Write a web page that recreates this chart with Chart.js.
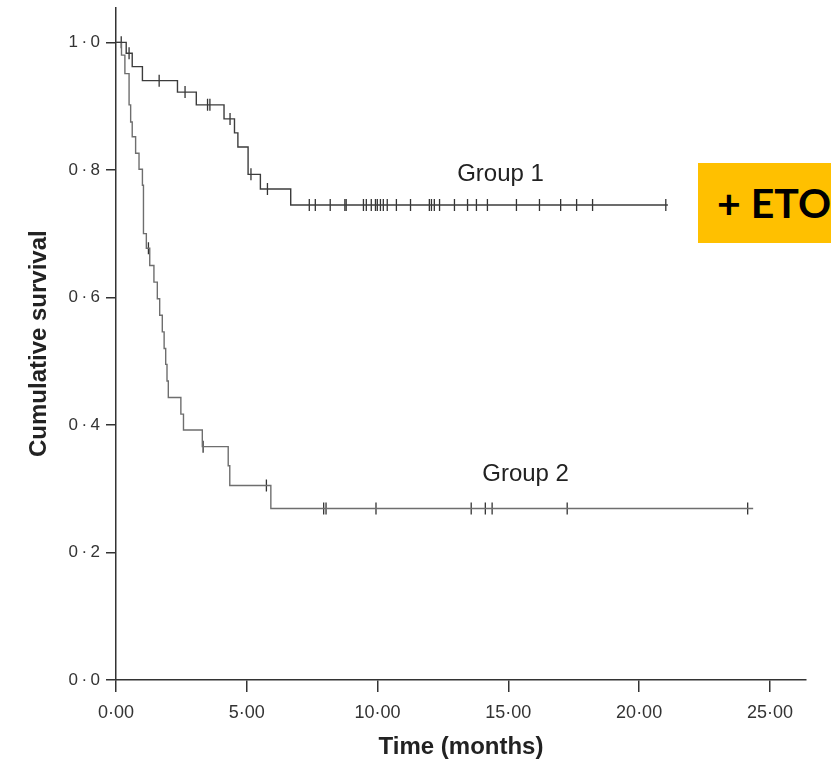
<!DOCTYPE html>
<html>
<head>
<meta charset="utf-8">
<script src="https://cdn.jsdelivr.net/npm/chart.js@4/dist/chart.umd.min.js"></script>
<style>
  html, body { margin: 0; padding: 0; background: #fff; overflow: hidden; }
  #wrap { position: relative; width: 831px; height: 763px; overflow: hidden; }
  #eto {
    position: absolute; left: 698px; top: 163px; width: 160px; height: 80px;
    background: #ffc000; color: #000; box-sizing: border-box; padding-left: 19px;
    font: bold 41px Lato, "Open Sans", sans-serif; line-height: 80px; white-space: nowrap;
  }
</style>
</head>
<body>
<div id="wrap">
  <canvas id="kmChart" width="831" height="763"></canvas>
  <div id="eto">+ ETO</div>
</div>
<script>
// Group 1 - Kaplan-Meier steps (months, cumulative survival)
const times1 = [0, 0.39, 0.62, 1.01, 2.35, 3.07, 4.13, 4.53, 4.66, 5.05, 5.52, 6.68];
const surv1 = [1.0, 0.983, 0.962, 0.940, 0.922, 0.902, 0.880, 0.858, 0.836, 0.793, 0.770, 0.745];
const end1 = 21.1;
const censor1 = [0.2, 0.5, 1.65, 2.64, 3.5, 3.59, 4.36, 5.16, 5.79, 7.39, 7.62, 8.19, 8.75, 8.8,
    9.46, 9.57, 9.76, 9.92, 9.99, 10.11, 10.22, 10.37, 10.72, 11.26, 11.98, 12.06, 12.17, 12.37,
    12.94, 13.44, 13.78, 14.2, 15.31, 16.19, 17.0, 17.61, 18.22, 21.02];

// Group 2
const times2 = [0, 0.21, 0.34, 0.50, 0.56, 0.62, 0.75, 0.88, 1.01, 1.05, 1.16, 1.29, 1.45, 1.58,
    1.67, 1.77, 1.84, 1.90, 1.95, 2.00, 2.48, 2.58, 3.30, 4.29, 4.35, 5.92];
const surv2 = [1.0, 0.980, 0.951, 0.902, 0.875, 0.852, 0.826, 0.801, 0.776, 0.700, 0.677, 0.650,
    0.624, 0.598, 0.572, 0.546, 0.520, 0.495, 0.469, 0.443, 0.417, 0.392, 0.366, 0.336, 0.305, 0.269];
const end2 = 24.36;
const censor2 = [1.24, 3.33, 5.75, 7.94, 8.03, 9.94, 13.58, 14.12, 14.38, 17.25, 24.15];

// axes
const xTicks = [0, 5, 10, 15, 20, 25];
const yTicks = [0, 0.2, 0.4, 0.6, 0.8, 1.0];

// curve labels
const labelNames = ['Group 1', 'Group 2'];
const labelX = [14.7, 15.66];
const labelY = [0.793, 0.323];

function kmPoints(times, surv, end) {
    const pts = times.map((t, i) => ({ x: t, y: surv[i] }));
    pts.push({ x: end, y: surv[surv.length - 1] });
    return pts;
}

function survivalAt(times, surv, t) {
    let s = surv[0];
    times.forEach((ti, i) => { if (ti <= t) s = surv[i]; });
    return s;
}

function censorPoints(times, surv, censored) {
    return censored.map(t => ({ x: t, y: survivalAt(times, surv, t) }));
}

const groupLabels = {
    id: 'groupLabels',
    afterDatasetsDraw(chart) {
        const { ctx, scales: { x, y } } = chart;
        ctx.save();
        ctx.font = '24px "Liberation Sans", Arial, sans-serif';
        ctx.fillStyle = '#222';
        ctx.textAlign = 'center';
        ctx.textBaseline = 'middle';
        labelNames.forEach((name, i) => {
            ctx.fillText(name, x.getPixelForValue(labelX[i]), y.getPixelForValue(labelY[i]));
        });
        ctx.restore();
    }
};

Chart.defaults.font.family = '"Liberation Sans", Arial, sans-serif';
Chart.defaults.color = '#333';

const km = document.getElementById('kmChart');
const kmChart = new Chart(km, {
    type: 'line',
    data: {
        datasets: [{
            data: kmPoints(times1, surv1, end1),
            stepped: 'before',
            borderColor: '#3c3c3c',
            borderWidth: 1.4,
            pointRadius: 0
        }, {
            data: kmPoints(times2, surv2, end2),
            stepped: 'before',
            borderColor: '#6e6e6e',
            borderWidth: 1.4,
            pointRadius: 0
        }, {
            data: censorPoints(times1, surv1, censor1),
            showLine: false,
            pointStyle: 'line',
            rotation: 90,
            pointRadius: 6,
            borderColor: '#333',
            borderWidth: 1.3
        }, {
            data: censorPoints(times2, surv2, censor2),
            showLine: false,
            pointStyle: 'line',
            rotation: 90,
            pointRadius: 6,
            borderColor: '#333',
            borderWidth: 1.3
        }]
    },
    options: {
        responsive: false,
        animation: false,
        layout: { padding: { top: 5, right: 25, bottom: 0, left: 0 } },
        plugins: { legend: { display: false }, tooltip: { enabled: false } },
        scales: {
            x: {
                type: 'linear',
                min: 0,
                max: 26.38,
                afterBuildTicks: s => { s.ticks = xTicks.map(v => ({ value: v })); },
                afterFit: s => { s.height = 83; s.paddingLeft = 0; s.paddingRight = 0; },
                ticks: {
                    callback: v => v.toFixed(2).replace('.', '·'),
                    font: { size: 18 },
                    padding: 10,
                    maxRotation: 0,
                    autoSkip: false
                },
                grid: { drawOnChartArea: false, tickLength: 12, color: '#333', lineWidth: 1.5 },
                border: { color: '#333', width: 1.5 },
                title: {
                    display: true,
                    text: 'Time (months)',
                    color: '#222',
                    font: { size: 24, weight: 'bold' },
                    padding: { top: 0, bottom: 1 }
                }
            },
            y: {
                min: 0,
                max: 1.055,
                afterBuildTicks: s => { s.ticks = yTicks.map(v => ({ value: v })); },
                afterFit: s => { s.width = 116; s.paddingTop = 0; s.paddingBottom = 0; },
                ticks: {
                    callback: v => v.toFixed(1).replace('.', '\u2009·\u2009'),
                    font: { size: 17 },
                    padding: 6
                },
                grid: { drawOnChartArea: false, tickLength: 10, color: '#333', lineWidth: 1.5 },
                border: { color: '#333', width: 1.5 },
                title: {
                    display: true,
                    text: 'Cumulative survival',
                    color: '#222',
                    font: { size: 24, weight: 'bold' },
                    padding: { top: 25, bottom: 0 }
                }
            }
        }
    },
    plugins: [groupLabels]
});
</script>
</body>
</html>
